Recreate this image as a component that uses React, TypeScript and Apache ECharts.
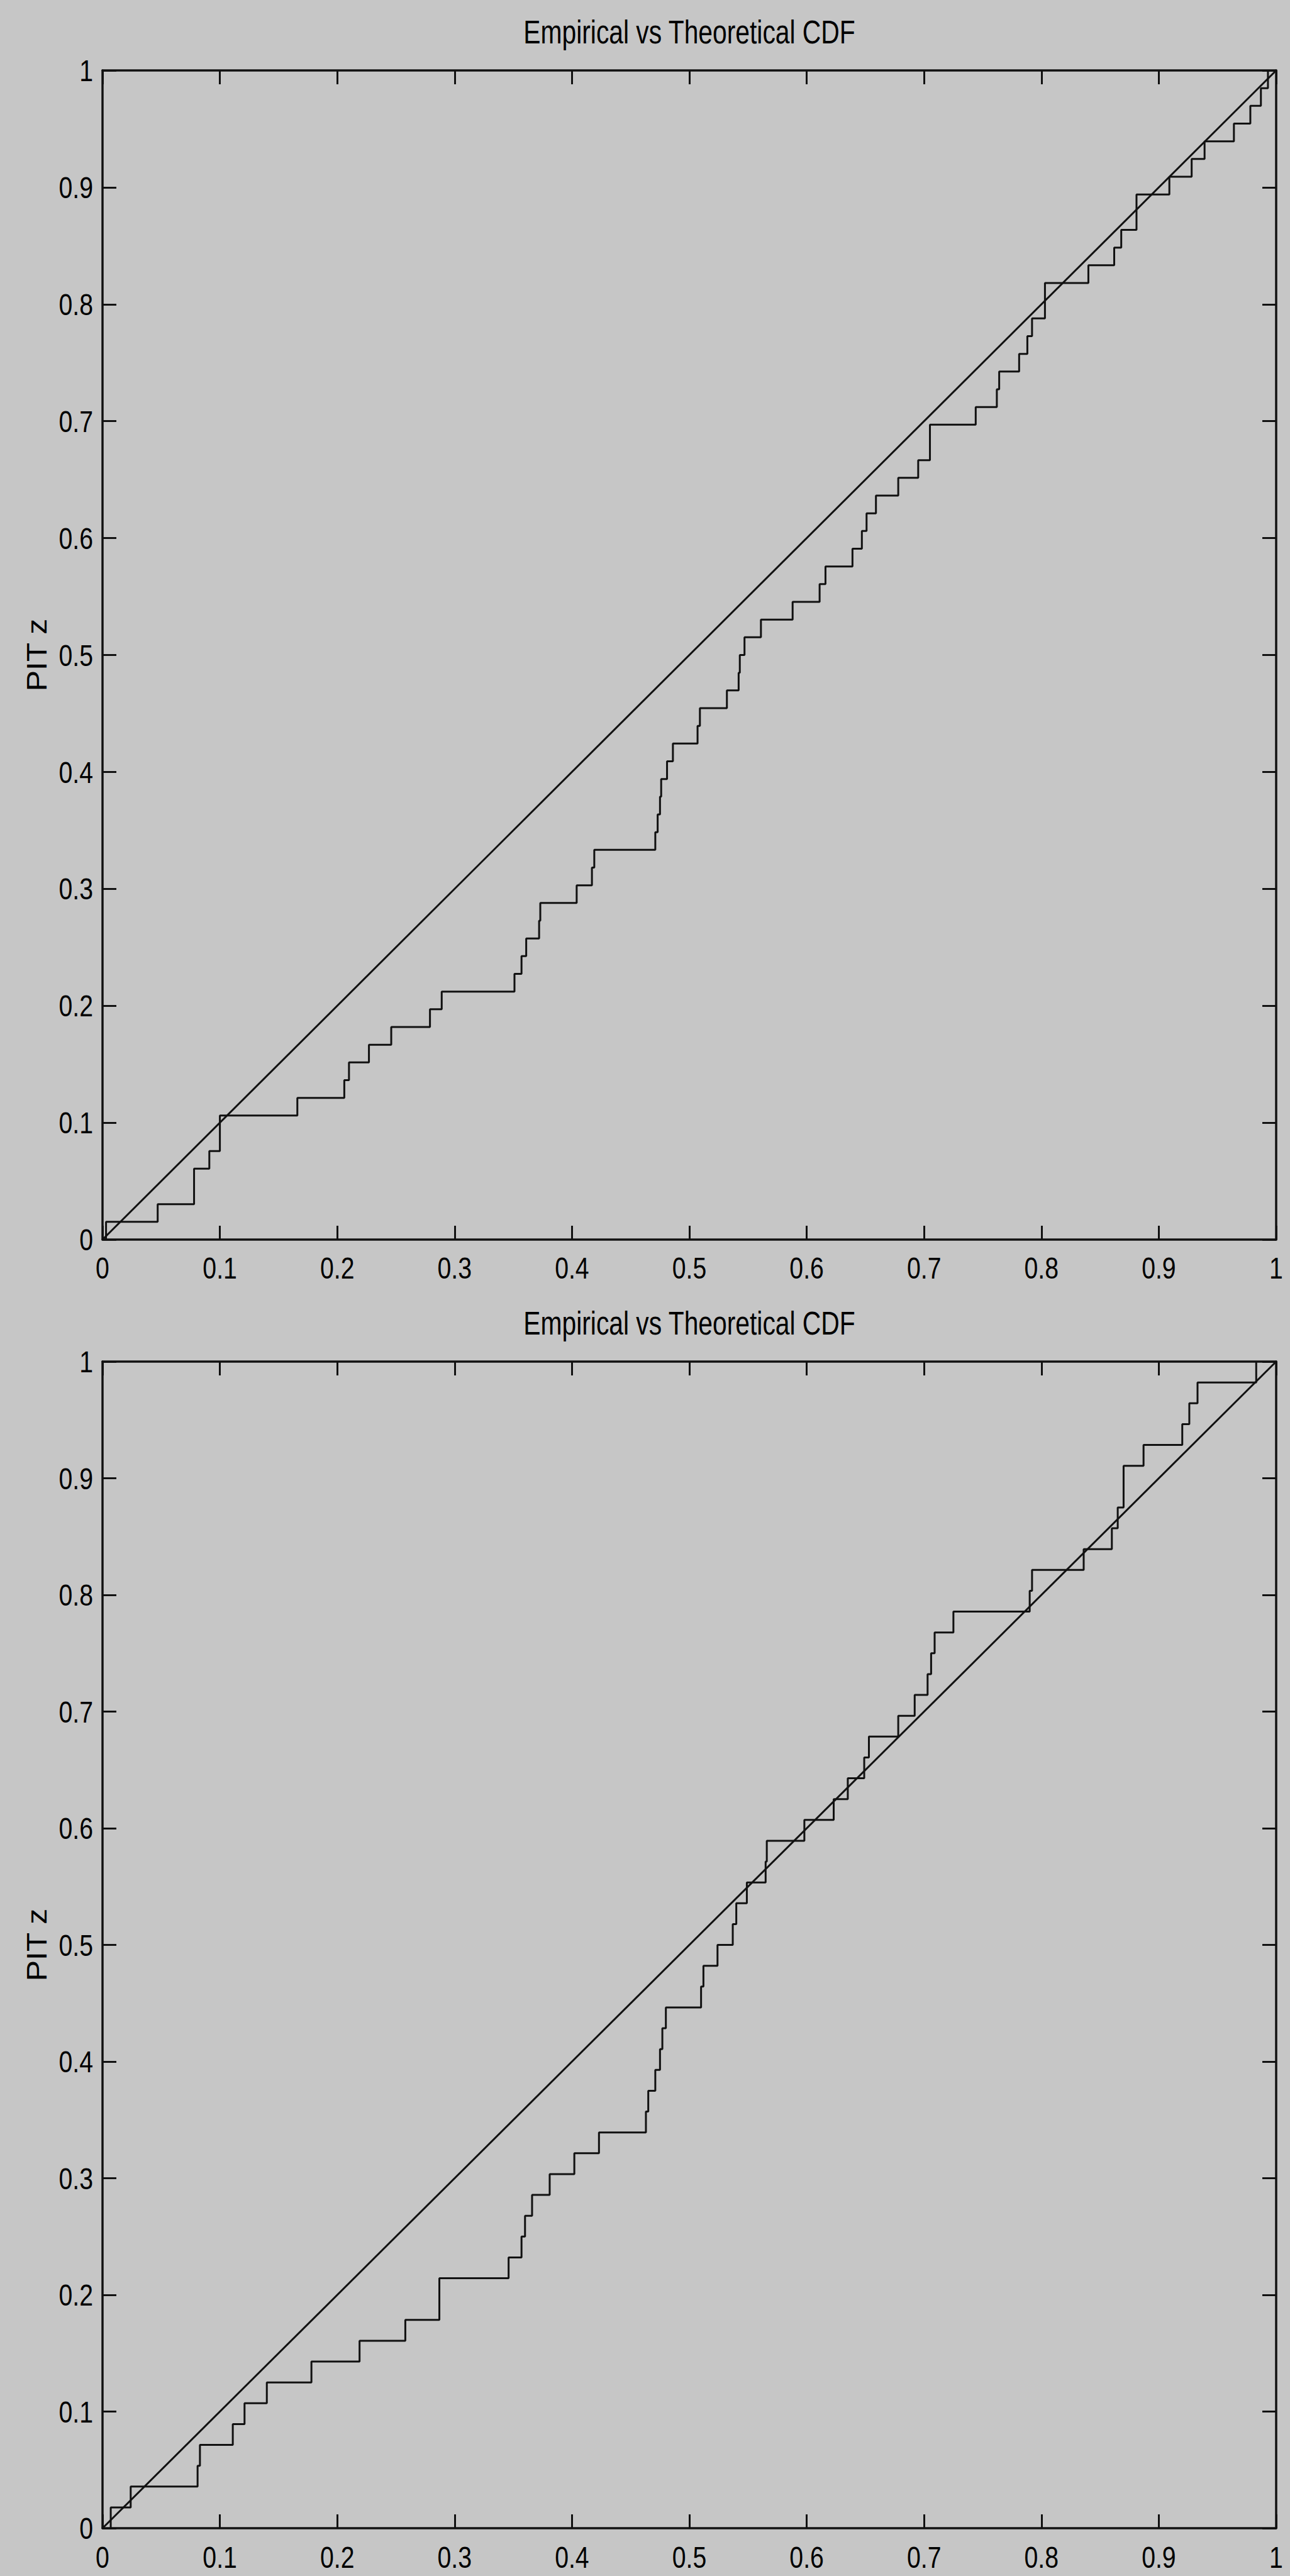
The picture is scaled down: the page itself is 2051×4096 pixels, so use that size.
import React, { useEffect, useRef } from "react";
import * as echarts from "echarts";

// Sorted PIT samples for each panel; the empirical CDF steps by 1/n at every sample.
const topSamples = [
  0.003, 0.047, 0.078, 0.078, 0.091, 0.1, 0.1, 0.166, 0.206, 0.21, 0.227, 0.246,
  0.279, 0.289, 0.351, 0.357, 0.361, 0.372, 0.373, 0.404, 0.417, 0.419, 0.471,
  0.473, 0.475, 0.476, 0.481, 0.486, 0.507, 0.509, 0.532, 0.542, 0.543, 0.547,
  0.561, 0.588, 0.611, 0.616, 0.639, 0.647, 0.651, 0.659, 0.678, 0.695, 0.705,
  0.705, 0.744, 0.762, 0.764, 0.781, 0.788, 0.792, 0.803, 0.803, 0.84, 0.862,
  0.868, 0.881, 0.881, 0.909, 0.928, 0.939, 0.964, 0.978, 0.987, 0.993,
];

const bottomSamples = [
  0.007, 0.024, 0.081, 0.083, 0.111, 0.121, 0.14, 0.178, 0.219, 0.258, 0.287,
  0.287, 0.346, 0.357, 0.36, 0.366, 0.381, 0.402, 0.423, 0.463, 0.465, 0.471,
  0.475, 0.477, 0.48, 0.51, 0.512, 0.524, 0.537, 0.54, 0.549, 0.565, 0.566,
  0.598, 0.623, 0.635, 0.649, 0.653, 0.678, 0.692, 0.703, 0.706, 0.709, 0.725,
  0.79, 0.792, 0.836, 0.86, 0.865, 0.87, 0.87, 0.887, 0.92, 0.926, 0.933, 0.983,
];

// Uniform CDF reference line.
const theoretical: [number, number][] = [
  [0, 0],
  [1, 1],
];

// Tick values shared by both axes of both panels.
const tickValues = [0, 0.1, 0.2, 0.3, 0.4, 0.5, 0.6, 0.7, 0.8, 0.9, 1];
const tickLabels = ["0", "0.1", "0.2", "0.3", "0.4", "0.5", "0.6", "0.7", "0.8", "0.9", "1"];

const titleText = "Empirical vs Theoretical CDF";
const yAxisName = "PIT z";
const axisMin = 0;
const axisMax = 1;
const tickStep = 0.1;

const BG = "#c6c6c6";
const INK = "#111111";
const FONT = "'Liberation Sans', Arial, Helvetica, sans-serif";
// Condensed look of the printed lettering.
const NARROW = 0.8;

function ecdf(samples: number[]): [number, number][] {
  const n = samples.length;
  const pts: [number, number][] = [[samples[0], 0]];
  samples.forEach((x, i) => pts.push([x, (i + 1) / n]));
  return pts;
}

const panels = [
  { top: 112, height: 1859, samples: topSamples, titleY: 51, xLabelDy: 45 },
  { top: 2165, height: 1855, samples: bottomSamples, titleY: 2104, xLabelDy: 46 },
];
const gridLeft = 163;
const gridWidth = 1866;

export default function App() {
  const ref = useRef<HTMLDivElement>(null);

  useEffect(() => {
    document.body.style.margin = "0";
    document.body.style.background = BG;
    if (!ref.current) return;
    const chart = echarts.init(ref.current, undefined, { renderer: "svg" });

    const lineAxis = { lineStyle: { color: INK, width: 3.5 }, onZero: false };
    const tick = { show: true, inside: true, length: 22, lineStyle: { color: INK, width: 3 } };

    const grid: any[] = [];
    const xAxis: any[] = [];
    const yAxis: any[] = [];
    const series: any[] = [];

    panels.forEach((p, i) => {
      grid.push({ left: gridLeft, width: gridWidth, top: p.top, height: p.height });
      const common = {
        type: "value",
        min: axisMin,
        max: axisMax,
        interval: tickStep,
        gridIndex: i,
        splitLine: { show: false },
        axisLine: lineAxis,
        axisTick: tick,
        axisLabel: { show: false },
      };
      xAxis.push({ ...common, position: "bottom" });
      xAxis.push({ ...common, position: "top" });
      yAxis.push({ ...common, position: "left" });
      yAxis.push({ ...common, position: "right" });

      series.push({
        type: "line",
        name: "Empirical CDF",
        xAxisIndex: i * 2,
        yAxisIndex: i * 2,
        data: ecdf(p.samples),
        step: "end",
        showSymbol: false,
        lineStyle: { color: INK, width: 3 },
        silent: true,
      });
      series.push({
        type: "line",
        name: "Theoretical CDF",
        xAxisIndex: i * 2,
        yAxisIndex: i * 2,
        data: theoretical,
        showSymbol: false,
        lineStyle: { color: INK, width: 3 },
        silent: true,
      });
    });

    chart.setOption({
      animation: false,
      backgroundColor: BG,
      grid,
      xAxis,
      yAxis,
      series,
    });

    // Tick labels, titles and axis names placed through each grid's own scales.
    const graphic: any[] = [];
    const textStyle = (text: string, size: number, align: string) => ({
      text,
      fill: "#000",
      fontSize: size,
      fontFamily: FONT,
      align,
      verticalAlign: "middle",
    });

    panels.forEach((p, i) => {
      const origin = chart.convertToPixel({ gridIndex: i }, [axisMin, axisMin]) as number[];
      const corner = chart.convertToPixel({ gridIndex: i }, [axisMax, axisMax]) as number[];

      tickValues.forEach((v, k) => {
        const [px] = chart.convertToPixel({ gridIndex: i }, [v, axisMin]) as number[];
        graphic.push({
          type: "text",
          x: px,
          y: origin[1] + p.xLabelDy,
          scaleX: NARROW,
          silent: true,
          style: textStyle(tickLabels[k], 49, "center"),
        });
        const [, py] = chart.convertToPixel({ gridIndex: i }, [axisMin, v]) as number[];
        graphic.push({
          type: "text",
          x: origin[0] - 15,
          y: py,
          scaleX: NARROW,
          silent: true,
          style: textStyle(tickLabels[k], 49, "right"),
        });
      });

      graphic.push({
        type: "text",
        x: (origin[0] + corner[0]) / 2,
        y: p.titleY,
        scaleX: NARROW,
        silent: true,
        style: textStyle(titleText, 51, "center"),
      });

      graphic.push({
        type: "text",
        x: 58,
        y: (origin[1] + corner[1]) / 2,
        rotation: Math.PI / 2,
        scaleY: 0.9,
        silent: true,
        style: textStyle(yAxisName, 50, "center"),
      });
    });

    chart.setOption({ graphic });

    return () => chart.dispose();
  }, []);

  return <div ref={ref} style={{ width: 2051, height: 4096 }} />;
}
